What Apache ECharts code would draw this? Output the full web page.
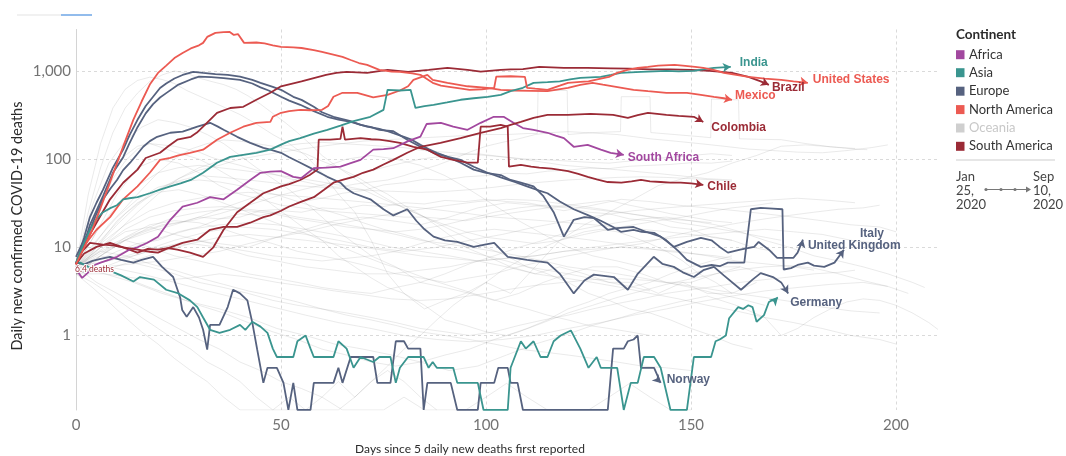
<!DOCTYPE html>
<html><head><meta charset="utf-8">
<script src="https://cdn.jsdelivr.net/npm/echarts@6/dist/echarts.min.js"></script>
<style>html,body{margin:0;padding:0;background:#fff}#chart{width:1066px;height:456px}</style>
</head><body><div id="chart"></div>
<script>
// ---------------- DATA ----------------
const continents = ['Africa','Asia','Europe','North America','Oceania','South America'];
const continentColors = ['#a2489f','#3a958f','#56627f','#ec5a52','#cfcfcf','#9b2b36'];
const xTickValues = [0,50,100,150,200];
const yTickValues = [1,10,100,1000];
const startLabel = '6.4 deaths';
const timelineStart = ['Jan','25,','2020'];
const timelineEnd = ['Sep','10,','2020'];

const unitedStates = [[0,6.4],[2,10],[4,16],[6,28],[8,50],[10,90],[12,160],[14,280],[16,450],[18,700],[20,950],[22,1150],[24,1400],[26,1600],[28,1800],[30,1950],[31,2080],[32,2430],[34,2700],[36,2750],[37.5,2770],[38.5,2560],[39.5,2620],[41,2080],[44,2100],[46,2050],[48,1950],[50,1870],[53,1850],[55,1820],[58,1720],[60,1640],[63,1520],[65,1440],[67,1330],[69,1230],[71,1170],[74,1030],[77,980],[79,977],[82,940],[84,903],[87,733],[89,680],[91,660],[94,630],[96,611],[99,620],[102,644],[102.5,860],[106,870],[109.5,857],[110,644],[112,630],[115,611],[118,680],[120,733],[123,750],[125,760],[128,820],[130,857],[132,950],[134.5,1030],[137,1080],[139.5,1113],[142,1150],[146,1173],[148,1150],[151,1113],[153,1080],[155.5,1030],[158,950],[161,900],[164,857],[168,820],[172,793],[175,760],[178.5,733]];
const mexico = [[0,6.4],[1,8.7],[3,12],[5,15.8],[8.3,22],[11.5,35],[15,49],[18,70],[20.5,98],[23,103],[25,110],[27.8,118],[31,128],[34.4,166],[37.6,199],[40.8,233],[44,258],[47.4,265],[48,302],[50,335],[52,350],[54.7,362],[57,358],[60,362],[61.5,400],[62.8,509],[65,565],[68.6,565],[72.5,500],[76,536],[79,600],[81,670],[82.3,793],[85.7,903],[87,793],[90.6,733],[95.5,670],[100.4,644],[103.6,611],[107,600],[111,595],[115,590],[120,644],[123,696],[126,733],[128.5,700],[131,670],[136,611],[139.5,590],[144,565],[149,565],[152,540],[155.6,509],[158,490],[160,471]];
const india = [[0,6.7],[1.5,10],[3.4,15.8],[5,21],[6.6,25],[8.5,28],[10,30],[11.5,35],[13,36],[15,37],[18,41],[20.5,45],[23,49],[25.5,53],[28,58],[31,70],[34.4,91],[37.6,106],[40.8,112],[44,118],[47.4,128],[50,146],[52,160],[54.7,173],[58,195],[61.3,215],[64.5,240],[67.7,270],[71.8,302],[75,362],[76,611],[79,600],[81.6,611],[82.8,380],[85,400],[87.2,413],[90.5,440],[93.8,471],[97,490],[100.4,509],[103.6,536],[106,590],[109,644],[111.6,733],[115,745],[118,760],[120.5,800],[123,836],[128,857],[130.5,900],[132.9,950],[137.8,977],[141,990],[144,1000],[147,990],[150.7,1000],[153,1040],[155.6,1084],[159.7,1113]];
const brazil = [[0,6.5],[1,8],[3,13],[5,19],[8.3,35],[11.5,54],[15,76],[17,103],[20.5,118],[22.5,140],[24.7,166],[28,179],[29.5,200],[31,233],[34.4,335],[37.6,380],[40.8,392],[44,471],[47.4,565],[50,670],[55,760],[58,830],[61,903],[63.5,950],[66,977],[71,950],[76,1030],[81,977],[86,1030],[90.6,1084],[95.5,1030],[98.7,980],[103.6,1030],[106,1040],[109,1050],[113,1113],[116,1100],[119,1084],[124.8,1084],[130.4,1070],[135,1060],[140,1040],[145,1040],[150,1030],[154.5,1000],[157.5,977],[160,950],[164,857],[167,760],[169,696]];
const colombia = [[0,6.5],[2,8.5],[5,10.1],[8.3,11.2],[11.5,10],[15,9.4],[18,8.9],[20,8.7],[23,10],[26,11.2],[29.6,12.2],[32.7,15.8],[36,17],[39.3,17],[42.5,19],[45.7,22],[47.4,23],[50,26],[52,29],[55,33],[58,37],[60.5,45],[62.8,54],[65,58],[67.7,63],[70,70],[72.5,76],[75,87],[77.4,98],[80.8,118],[84,138],[88.9,153],[93.8,173],[98.7,199],[103.6,225],[106,245],[108.5,264],[111.6,294],[115,318],[120,318],[125.5,325],[131,318],[134.6,294],[137,315],[139.5,335],[144,318],[147,310],[150.7,302],[153,264]];
const chile = [[0,6.4],[1.5,9],[3.4,11.2],[6.6,10.7],[9,10.5],[11.5,10],[15,8.7],[17.5,9.6],[20,9.4],[22.5,9.8],[24.7,9.4],[27.8,8.7],[31,7.8],[33.5,10],[36,15.8],[39.3,25],[42.5,32],[45.7,41],[48,45],[50,49],[52,52],[54.7,58],[57,66],[58.9,76],[59.2,166],[62,166],[64.5,170],[65,233],[65.6,166],[67.5,170],[69.4,173],[72,168],[74,166],[76.5,160],[79,153],[82.3,138],[85.7,128],[87.5,115],[89,106],[92,98],[95.5,91],[98,91],[98.7,233],[101,233],[103.6,245],[105.3,233],[105.6,82],[108.5,86],[111,82],[113,80],[116,78],[120,73],[122.5,68],[124.8,63],[127,59],[129.7,55],[133,54],[135.5,56],[137.8,58],[140,56],[142.6,55],[145,54],[147.5,54],[150,53],[153,51]];
const southAfrica = [[0,5.6],[1.5,4.5],[3,5.2],[4.5,6.3],[6,6.7],[8,7.2],[10,7.8],[13,9.4],[15,10],[17.3,11.2],[20,13.2],[23,20.5],[26,29],[29.6,32],[32.7,37],[36,35],[39.3,45],[42.5,58],[45,70],[47.4,72],[50,73],[53,63],[55,61],[58,79],[61,80],[64.5,82],[67,90],[69.4,98],[72.5,128],[75,130],[77.4,133],[81,160],[84,180],[85.5,250],[89,258],[92,233],[95.5,215],[98.7,258],[101.9,302],[104.3,302],[106.7,258],[109,225],[111.6,215],[115,199],[117,185],[119,173],[121.4,138],[124.8,145],[128,128],[130.4,118],[133.6,112]];
const asiaOther = [[0,6.7],[1,6.7],[3,6],[5.9,5.6],[8.3,5.4],[11,4.8],[14,4.1],[15.6,4.6],[19,4.3],[22,3.3],[25,3],[27.8,2.5],[29.6,2.1],[31,1.6],[32.7,1.16],[35,1.07],[37.6,1.16],[40,1.32],[41.3,1.16],[43,1.43],[45,1.26],[46.7,1.07],[48,0.71],[49,0.57],[53,0.57],[54,0.86],[56,1.0],[57.2,0.71],[58,0.57],[62.8,0.57],[64,0.86],[66,0.71],[67.7,0.43],[69.4,0.57],[72.5,0.5],[74,0.57],[76.7,0.57],[78,0.29],[79,0.43],[81,0.57],[84.8,0.57],[86,0.43],[87,0.5],[88,0.43],[92,0.43],[93,0.29],[98,0.29],[99.4,0.143],[105.3,0.143],[106,0.43],[108.5,0.86],[109.7,0.71],[111.6,0.86],[113.3,0.57],[115,0.57],[116.5,0.86],[118.2,1.0],[120.7,1.14],[123,0.71],[125,0.43],[127,0.57],[128,0.43],[132,0.43],[133.6,0.143],[135.3,0.29],[137,0.29],[138.5,0.57],[141,0.57],[142.6,0.43],[145,0.143],[149,0.143],[150.7,0.57],[154.9,0.57],[156,0.86],[157,0.9],[158.5,1.0],[159.3,1.57],[161.5,2.1],[162.7,2.0],[164,2.2],[165,2.1],[166,1.43],[167.8,1.7],[169,2.4],[171.2,2.7]];
const unitedKingdom = [[0,6.5],[2,13],[3.4,22],[5,32],[6.6,45],[9,80],[11.5,128],[13,185],[15,279],[17,400],[18.8,509],[20.5,640],[22,720],[24,820],[26,900],[28.6,977],[31,950],[34,920],[37,903],[40,860],[43,790],[45,733],[48,660],[50,611],[53,509],[55,470],[58,392],[60,340],[62.8,302],[65,285],[67,270],[69.4,245],[72,230],[74,215],[77.4,207],[80.8,166],[84,138],[87.2,118],[90.6,106],[93.8,91],[97,76],[100,70],[103.6,66],[106,58],[108.5,54],[111.6,49],[114,38],[116.5,25],[119,13.2],[121.4,20.5],[124,22],[126.3,21.5],[129.7,15.8],[132,16.5],[136,17],[139,15],[142.6,13.2],[145.8,10.1],[149,11.5],[152.4,12.8],[155,12],[157,10.1],[159,8.7],[162,9.4],[165.4,10.1],[166.5,11.5],[169,9.4],[171,7.6],[175,7.6],[176,8.7],[177.3,12.2]];
const italy = [[0,6.4],[2,11],[3.4,18],[6.6,38],[9,70],[11.5,105],[13,150],[15,230],[17,330],[18.8,420],[20.5,500],[22,560],[25,700],[28,800],[30,860],[33,850],[36,830],[40,793],[43,720],[45,650],[47,600],[50,509],[52,460],[54.7,413],[58,350],[61.3,302],[64,280],[67,264],[71,233],[74,220],[76,207],[80,179],[82,165],[84,145],[86,130],[88,118],[91,105],[93.8,98],[97,82],[100.4,70],[103.6,62],[107,55],[110,49],[113,44],[115,41],[118,33],[121.4,27],[125,23],[128,20],[131,17],[132.9,15],[136,15.8],[138,15],[141,14.6],[144,12],[147,9],[149,7.2],[152.4,6],[155,6.3],[157,6.1],[159,6.7],[163,6.7],[164.6,27],[167,28],[170,27.5],[172.3,27],[172.6,5.6],[174.4,5.8],[176,6.3],[178.5,6.7],[180,6.2],[182.5,6.0],[185,6.7],[187.3,9.4]];
const germany = [[0,7.8],[1.5,11],[3.4,15.8],[5,24],[6.6,35],[8.5,47],[10,58],[11.5,75],[13.2,91],[14.8,112],[16.4,138],[18,160],[19.8,179],[23,199],[26,205],[28,220],[29.6,233],[32.7,258],[34.5,235],[36,215],[39.3,179],[42.5,153],[45.7,134],[47.4,128],[50,118],[52,105],[54.7,91],[58,76],[61.3,63],[64.5,54],[66,46],[67.7,41],[71.8,35],[75,27],[77.4,23],[80.8,27],[83,20],[85,16],[87.2,13.2],[90,12],[93,11.5],[97,10.1],[100,10.8],[102,11.2],[105.3,7.8],[110,7.2],[115,6.7],[118,5],[121.4,3.0],[124,4.2],[126.3,4.9],[131.2,4.6],[134.6,3.3],[137,5],[140.9,7.8],[143,6.5],[145.8,6.0],[148,5.2],[150.7,4.6],[153,5.5],[155.6,6.0],[158,4.8],[162.2,3.3],[165,4.3],[167,5.1],[170,4.6],[172,4.0],[173.7,3.0]];
const norway = [[0,6.7],[2,6.4],[4,7],[6,7.4],[8.3,7.8],[11,7.2],[14,6.7],[16,7.2],[18.8,7.8],[21,6],[23.7,4.6],[25.4,2.7],[25.9,1.95],[27,1.63],[28.6,2.1],[30,1.6],[31,1.16],[32,0.69],[32.7,1.32],[35,1.32],[37,2.1],[38.3,3.3],[40,3],[41.8,2.5],[43,1.4],[44.2,0.69],[45.7,0.29],[46.7,0.43],[49,0.43],[50.6,0.29],[51.8,0.143],[53,0.29],[54,0.143],[57.2,0.143],[58,0.29],[62.8,0.29],[64,0.43],[65,0.29],[67,0.57],[72.5,0.57],[73.5,0.29],[76.7,0.29],[78,0.86],[80,0.86],[81,0.71],[84,0.71],[84.8,0.143],[85.7,0.29],[91.4,0.29],[93,0.143],[98,0.143],[98.7,0.29],[102,0.29],[103,0.43],[105.3,0.43],[106,0.29],[107.7,0.29],[109,0.143],[129.7,0.143],[131,0.71],[133.6,0.71],[134.6,0.86],[136,0.9],[137,1.0],[137.8,0.43],[141,0.43],[142.6,0.29]];

// other (greyed-out) countries
const other01 = [[0,6],[3,40],[6,150],[9,380],[12,620],[15,780],[18,850],[21,800],[24,720],[27,600],[30,520],[33,450],[36,390],[40,320],[44,250],[48,190],[52,150],[56,110],[60,70],[64,40],[68,25],[72,12],[76,5],[80,3],[85,2],[90,2.5],[95,3],[100,4],[106,3],[112,6],[118,12],[124,18],[130,25],[136,35],[142,50],[148,60],[154,70],[160,90],[166,110],[172,140],[178,145],[184,138],[190,130],[193,128]];
const other02 = [[0,6],[3,25],[6,80],[9,200],[12,380],[15,560],[18,760],[21,900],[24,1000],[27,940],[30,830],[33,760],[36,700],[39,620],[42,520],[45,420],[48,330],[51,260],[54,200],[57,150],[60,110],[64,80],[68,60],[72,45],[76,35],[80,28],[85,22],[90,18],[95,15],[100,13],[106,12],[112,11],[118,12],[124,14],[130,16],[136,18],[142,20],[148,22],[154,25],[160,28],[166,30],[170,32]];
const other03 = [[0,6],[4,30],[8,90],[12,160],[16,230],[20,280],[24,260],[28,230],[32,190],[36,150],[40,110],[44,80],[48,60],[52,45],[56,32],[60,22],[64,15],[68,11],[72,8],[78,6],[84,4],[90,3.5],[96,3],[102,2.5],[108,3],[114,4],[120,5],[126,6],[132,6],[138,5],[144,4],[150,4],[156,5],[162,6],[168,5],[172,4]];
const other04 = [[0,6],[3,12],[6,30],[9,60],[12,95],[15,130],[18,150],[21,145],[24,140],[27,130],[30,120],[33,105],[36,95],[40,85],[44,75],[48,68],[52,60],[56,55],[60,50],[64,48],[68,52],[72,55],[76,58],[80,65],[84,75],[88,85],[92,100],[96,120],[100,140],[104,155],[108,170],[112,190],[116,200],[120,205],[124,200],[128,195],[132,190],[136,180],[140,170],[146,160],[152,150],[158,140],[164,130],[170,125],[176,120],[182,118],[188,125],[194,135],[198,145]];
const other05 = [[0,6],[4,10],[8,18],[12,28],[16,45],[20,70],[24,100],[28,130],[32,150],[36,165],[40,160],[44,150],[48,140],[52,130],[56,115],[60,95],[64,80],[68,65],[72,50],[76,40],[80,30],[85,22],[90,15],[95,10],[100,8],[106,6],[112,5],[118,6],[124,5],[130,4],[136,4],[142,3],[148,4],[154,3],[160,3],[166,4]];
const other06 = [[0,6],[5,9],[10,15],[15,25],[20,40],[25,60],[30,80],[35,95],[40,110],[45,125],[50,140],[55,150],[60,155],[65,150],[70,145],[75,140],[80,135],[85,125],[90,120],[95,115],[100,110],[105,105],[110,100],[115,98],[120,95],[125,92],[130,90],[135,95],[140,100],[145,105],[150,110],[155,115],[160,110]];
const other07 = [[0,6],[3,15],[6,35],[9,70],[12,110],[15,140],[18,150],[21,135],[24,120],[27,110],[30,100],[33,85],[36,70],[40,55],[44,42],[48,30],[52,22],[56,16],[60,12],[64,8],[68,6],[72,4.5],[76,3.5],[80,3],[85,2.2],[90,1.5],[95,1.3],[100,1.1],[105,1],[110,1.2],[115,1.5],[120,2],[125,2.4],[130,3],[135,3.5],[140,4],[145,5],[150,6],[155,7],[160,8]];
const other08 = [[0,6],[5,15],[10,30],[15,50],[20,70],[25,80],[30,85],[35,80],[40,75],[45,70],[50,65],[55,60],[60,55],[65,50],[70,45],[75,35],[80,28],[85,22],[90,17],[95,13],[100,10],[105,8],[110,6],[115,5],[120,4],[125,3],[130,2.5],[135,2],[140,1.8],[145,1.5],[150,1.2],[155,1],[160,0.8],[165,0.7]];
const other09 = [[0,6],[5,10],[10,18],[15,30],[20,45],[25,60],[30,75],[35,85],[40,100],[45,110],[50,120],[55,130],[60,140],[65,150],[70,160],[75,165],[80,170],[85,175],[90,180],[95,185],[100,190],[105,190],[110,195],[112.5,195],[112.7,600],[119.8,600],[120,190],[126,200],[132.8,205],[133,510],[140,510],[140.2,200],[146,190],[152,180],[154.8,175],[155,480],[161.6,470],[161.8,170],[166,168],[172,166],[178,150],[184,138],[190,132]];
const other10 = [[0,5],[5,7],[10,9],[15,11],[20,12],[25,15],[30,17],[35,21],[40,22],[45,26],[50,27],[55,33],[60,36],[65,41],[70,44],[75,51],[80,54],[85,59],[90,58],[95,63],[100,65],[105,69],[110,68],[115,73],[120,75],[125,79],[130,78],[135,83],[140,85],[145,87],[150,91],[155,90],[160,95]];
const other11 = [[0,5],[6,8],[12,12],[18,15],[24,18],[30,22],[36,28],[42,35],[48,45],[54,60],[60,80],[66,100],[72,110],[78,100],[84,85],[90,65],[96,45],[102,30],[108,20],[114,14],[120,10],[126,8],[132,7],[138,6],[144,6],[150,5],[156,6],[162,6]];
const other12 = [[0,6],[7,10],[14,14],[21,18],[28,20],[35,24],[42,30],[49,38],[56,46],[63,55],[70,70],[77,85],[84,100],[91,110],[98,115],[105,105],[112,95],[119,85],[126,80],[133,75],[140,70],[147,65],[154,60],[160,58]];
const other13 = [[0,5],[7,6],[14,8],[21,10],[28,12],[35,11],[42,10],[49,13],[56,16],[63,20],[70,22],[77,20],[84,18],[91,22],[98,28],[105,32],[112,30],[119,26],[126,30],[133,35],[140,33],[147,30],[154,28],[161,26],[168,24],[175,22],[182,20],[189,18],[196,17],[200,15]];
const other14 = [[0,6],[6,9],[12,12],[18,10],[24,8],[30,7],[36,6],[42,5],[48,4.5],[54,4],[60,3.5],[66,3.2],[72,3],[78,3.5],[84,4],[90,5],[96,6.5],[102,8],[108,10],[114,12],[120,15],[126,17],[132,19],[138,21],[144,22],[150,20],[156,18],[162,15],[168,12],[174,10],[180,8],[186,7],[192,6],[198,5],[204,4],[207,3.5]];
const other15 = [[0,5],[6,8],[12,13],[18,18],[24,20],[30,19],[36,16],[42,13],[48,11],[54,9],[60,8],[66,7],[72,6],[78,5],[84,4.5],[90,4],[96,4.5],[102,5],[108,6],[114,7],[120,8],[126,9],[132,10],[138,11],[144,13],[150,15],[156,17],[162,19],[168,21],[174,23],[180,25],[186,27],[192,28],[196,30]];
const other16 = [[0,6],[7,5],[14,4],[21,3],[28,2.4],[35,2],[42,1.6],[49,1.2],[56,1],[63,0.8],[70,0.7],[77,0.6],[84,0.5],[91,0.4],[98,0.45],[105,0.6],[112,0.8],[119,1],[126,1.3],[133,1.6],[140,2],[147,2.4],[154,2.8],[161,2.2],[168,1.6],[172,1],[176,1.2],[180,1.6],[184,2],[188,2.4],[192,2.6],[196,2.5],[200,2.2],[204,1.8],[208,1.4],[211,1.1]];
const other17 = [[0,5],[6,6],[12,4.5],[18,3.5],[24,2.8],[30,2.2],[36,1.8],[42,1.4],[48,1.1],[54,0.9],[60,0.7],[66,0.6],[72,0.5],[78,0.45],[84,0.5],[90,0.6],[96,0.7],[102,0.9],[108,1.1],[114,1.4],[120,1.8],[126,2.2],[132,2.7],[138,3.2],[144,3.8],[150,4.4],[156,5],[162,5.6],[168,6],[174,6.2],[180,5.8],[186,5],[192,4.2],[198,3.6],[203,3]];
const other18 = [[0,6],[6,10],[12,16],[18,22],[24,26],[30,28],[36,29],[42,27],[48,25],[54,22],[60,20],[66,18],[72,16],[78,14],[84,12],[90,11],[96,10],[102,9],[108,8],[114,7],[120,6],[126,5.5],[132,5],[138,4.5],[144,4],[150,3.5],[156,3],[162,2.6],[168,2.2]];
const other19 = [[0,6],[6,11],[12,18],[18,26],[24,32],[30,36],[36,40],[42,42],[48,40],[54,38],[60,36],[66,34],[72,32],[78,30],[84,28],[90,26],[96,24],[102,22],[108,21],[114,20],[120,19],[126,18],[132,17],[138,16],[144,15],[150,14],[156,13],[160,12]];
const other20 = [[0,5],[7,7],[14,8],[21,10],[28,11],[35,10],[42,8],[49,7],[56,6],[63,5.5],[70,5],[77,5],[84,5.5],[91,6],[98,7],[105,7.5],[112,8],[119,9],[126,9.5],[133,10],[140,9.5],[147,9],[154,8],[161,7],[168,6.5],[175,6],[180,5.5]];
const other21 = [[0,6],[5,4],[10,3],[15,2.2],[20,1.6],[25,1.2],[30,0.9],[35,0.7],[40,0.5],[45,0.4],[50,0.3],[55,0.25],[60,0.2],[65,0.143],[75,0.143],[80,0.2],[85,0.143],[95,0.143],[100,0.2],[105,0.286],[110,0.2],[115,0.143],[125,0.143],[130,0.2],[135,0.286],[140,0.2],[145,0.143],[150,0.143]];
const other22 = [[0,5],[4,4],[8,3],[12,2.2],[16,1.6],[20,1.2],[24,0.9],[28,0.7],[32,0.5],[36,0.4],[40,0.3],[44,0.2],[48,0.143],[56,0.143],[60,0.2],[64,0.3],[68,0.2],[72,0.3],[76,0.4],[80,0.3],[84,0.2],[88,0.143]];
const other23 = [[0,6],[6,8],[12,7],[18,6],[24,5],[30,4],[36,3.5],[42,3],[48,2.5],[54,2.2],[60,2],[66,1.8],[72,1.6],[78,1.4],[84,1.2],[90,1.1],[96,1],[102,1.1],[108,1.3],[114,1.5],[120,1.7],[126,2],[132,2.3],[138,2.6],[144,3],[150,3.3],[156,3.6],[162,4],[168,4.3],[174,4.6],[180,5],[186,5.2],[190,5.5]];
const other24 = [[0,5],[6,8],[12,12],[18,17],[24,22],[30,25],[36,27],[42,26],[48,24],[54,21],[60,19],[66,17],[72,16],[78,15],[84,16],[90,18],[96,21],[102,25],[108,28],[114,30],[120,29],[126,27],[132,25],[138,23],[144,21],[150,20],[155,19]];
const other25 = [[0,6],[6,10],[12,15],[18,17],[24,14],[30,12],[36,10],[42,9],[48,8],[54,7.5],[60,7],[66,7.5],[72,8],[78,9],[84,11],[90,13],[96,15],[102,16],[108,15],[114,14],[120,13],[126,12],[132,11],[138,10],[144,9],[150,8.5],[156,8],[160,7.5]];
const other26 = [[0,5],[7,6],[14,6.5],[21,7],[28,8],[35,9],[42,11],[49,13],[56,15],[63,18],[70,21],[77,24],[84,27],[91,30],[98,33],[105,35],[112,34],[119,31],[126,28],[133,25],[140,22],[147,19],[154,17],[161,15],[168,13],[172,12]];
const other27 = [[0,6],[6,9],[12,8],[18,6.5],[24,5.5],[30,4.5],[36,3.8],[42,3.2],[48,2.8],[54,2.4],[60,2],[66,1.7],[72,1.5],[78,1.3],[84,1.1],[90,1],[96,0.9],[102,0.8],[108,0.7],[114,0.65],[120,0.6],[126,0.55],[132,0.5],[138,0.45],[144,0.43],[150,0.4]];
const other28 = [[0,5],[7,5],[14,4.5],[21,4.2],[28,4.5],[35,5],[42,4.6],[49,4],[56,3.6],[63,3.2],[70,2.9],[77,2.6],[84,2.5],[91,2.6],[98,2.9],[105,3.3],[112,3.7],[119,4],[126,4.3],[133,4.4],[140,4.2],[147,3.8],[154,3.4],[161,3],[168,2.7],[175,2.4],[182,2.1],[189,1.9],[196,1.8]];
const other29 = [[0,6],[5,12],[10,22],[15,35],[20,48],[25,55],[30,58],[35,55],[40,50],[45,44],[50,38],[55,32],[60,27],[65,23],[70,19],[75,16],[80,14],[85,12],[90,10],[95,9],[100,8],[105,7],[110,6],[115,5.5],[120,5],[125,4.5],[130,4],[135,3.6],[140,3.2]];
const other30 = [[0,5],[7,7],[14,10],[21,13],[28,16],[35,18],[42,19],[49,18],[56,16],[63,14],[70,12],[77,10],[84,9],[91,8],[98,7],[105,6],[112,5],[119,4.5],[126,4],[133,3.5],[140,3],[147,2.6],[154,2.2],[161,1.9],[168,1.6],[175,1.4],[182,1.2],[189,1],[196,0.9],[200,0.8]];
const other31 = [[0,5],[4,3.5],[8,2.4],[12,1.6],[16,1.1],[20,0.8],[24,0.55],[28,0.4],[32,0.3],[36,0.2],[40,0.143],[48,0.143],[52,0.2],[56,0.143],[64,0.143],[68,0.2],[72,0.3],[76,0.45],[80,0.7],[84,1],[88,1.5],[92,2.2],[96,3],[100,4],[104,5.5],[108,7],[112,9],[116,11],[120,13],[124,15],[128,16],[132,15],[136,13],[140,11],[144,9],[148,7],[152,5],[156,4],[160,3]];
const other32 = [[0,6],[7,5.5],[14,7],[21,9],[28,11],[35,13],[42,14],[49,13],[56,12],[63,11],[70,10],[77,9],[84,8],[91,7.5],[98,7],[105,7.5],[112,8],[119,9],[126,10],[133,11],[140,12],[147,13],[154,14],[161,15],[168,16],[175,15],[182,14],[189,12],[196,11],[200,10]];
const other33 = [[0,5],[5,10],[10,20],[15,32],[20,42],[25,45],[30,40],[35,33],[40,27],[45,22],[50,18],[55,15],[60,12],[65,10],[70,8],[75,6.5],[80,5.5],[85,4.5],[90,3.8],[95,3.2],[100,2.7],[105,2.3],[110,2],[115,1.7],[120,1.5],[125,1.3],[130,1.2],[135,1.1],[140,1]];
const other34 = [[0,6],[8,7],[16,9],[24,12],[32,15],[40,17],[48,16],[56,14],[64,12],[72,10],[80,9],[88,10],[96,12],[104,14],[112,17],[120,20],[128,23],[136,26],[144,28],[152,30],[160,32],[168,34],[176,36],[184,34],[190,32]];
const other35 = [[0,5],[8,6],[16,5],[24,4],[32,3.2],[40,2.6],[48,2.1],[56,1.7],[64,1.4],[72,1.2],[80,1],[88,0.9],[96,0.85],[104,0.9],[112,1],[120,1.2],[128,1.4],[136,1.7],[144,2],[152,2.4],[160,2.8],[168,3.2],[176,3.5],[184,3.8],[192,4],[198,3.6]];
const other36 = [[0,6],[5,8],[10,11],[15,14],[20,17],[25,19],[30,22],[35,21],[40,24],[45,23],[50,26],[55,25],[60,28],[65,27],[70,30],[75,29],[80,32],[85,31],[90,34],[95,33],[100,35],[105,33],[110,32],[115,29],[120,28],[125,25],[130,24],[135,21],[140,20],[145,17],[150,16],[155,13],[160,12],[165,10],[170,9]];
const other37 = [[0,6],[5,15],[10,40],[15,80],[20,100],[25,90],[30,70],[35,50],[40,40],[45,35],[50,30],[55,28],[60,26],[65,25],[70,24],[75,23],[80,22],[85,22],[90,21],[95,20],[100,22],[105,24],[110,26],[115,28],[120,30],[125,32],[130,34],[135,30],[140,27],[145,24],[150,22],[155,20],[160,19]];
const other38 = [[0,6],[6,12],[12,24],[18,40],[24,55],[30,65],[36,62],[42,58],[48,54],[54,50],[60,48],[66,46],[72,44],[78,43],[84,42],[90,43],[96,45],[102,48],[108,52],[114,55],[120,58],[126,60],[132,62],[138,63],[144,62],[150,60],[156,58],[160,56]];
const otherCountries = [other01,other02,other03,other04,other05,other06,other07,other08,other09,other10,other11,other12,other13,other14,other15,other16,other17,other18,other19,other20,other21,other22,other23,other24,other25,other26,other27,other28,other29,other30,other31,other32,other33,other34,other35,other36,other37,other38];

// highlighted countries: data + continent + label; styling (offsets, arrow angle) kept separately
const highlighted = [
  {name:'Norway', data:norway, continent:'Europe'},
  {name:'Asia (other)', data:asiaOther, continent:'Asia', label:''},
  {name:'Germany', data:germany, continent:'Europe'},
  {name:'Italy', data:italy, continent:'Europe'},
  {name:'United Kingdom', data:unitedKingdom, continent:'Europe'},
  {name:'Chile', data:chile, continent:'South America'},
  {name:'South Africa', data:southAfrica, continent:'Africa'},
  {name:'Colombia', data:colombia, continent:'South America'},
  {name:'Mexico', data:mexico, continent:'North America'},
  {name:'Brazil', data:brazil, continent:'South America'},
  {name:'India', data:india, continent:'Asia'},
  {name:'United States', data:unitedStates, continent:'North America'}
];
const labelStyle = {
  'Norway':[1,-3,-135], 'Asia (other)':[0,0,-45], 'Germany':[-3,9,-150], 'Italy':[11,-16,-35],
  'United Kingdom':[0,6,-15], 'Chile':[-1,2,-100], 'South Africa':[-1,3,-100], 'Colombia':[3,6,-120],
  'Mexico':[-2,-4,-100], 'Brazil':[-2,3,-115], 'India':[4,-4,-85], 'United States':[0,-3,-100]
};

// ---------------- CHART ----------------
const colorOf = {};
continents.forEach((c,i)=>colorOf[c]=continentColors[i]);
const chart = echarts.init(document.getElementById('chart'));
const series = [];
otherCountries.forEach(d => series.push({
  type:'line', data:d, symbol:'none', silent:true, animation:false, z:1,
  lineStyle:{color:'rgba(150,150,150,0.2)', width:1}
}));
highlighted.forEach(h => {
  const col = colorOf[h.continent];
  const st = labelStyle[h.name];
  const n = h.data.length;
  const data = h.data.map((p,i)=> i===n-1 ? {value:p, symbol:'arrow', symbolSize:[7,8], symbolRotate:st[2], itemStyle:{color:col}} : p);
  series.push({type:'line', name:h.name, data, symbol:'none', showSymbol:true, showAllSymbol:true,
    clip:false, silent:true, animation:false, z:3,
    lineStyle:{color:col, width:1.8}, itemStyle:{color:col}});
});

const isPow10 = v => Math.abs(Math.log10(v) - Math.round(Math.log10(v))) < 1e-6;
chart.setOption({
  animation:false,
  grid:{left:76, top:29.5, width:861, height:380.5},
  xAxis:{type:'value', min:0, max:210, interval:50,
    axisLine:{show:false}, axisTick:{show:false},
    axisLabel:{fontFamily:'Lato', fontSize:15, color:'#737373', margin:8, showMaxLabel:false,
      formatter: v => xTickValues.includes(v) ? String(v) : ''},
    splitLine:{show:true, showMaxLine:false, lineStyle:{type:[3,3], color:'#dadada'}}},
  yAxis:{type:'log', logBase:10, min:1/7, max:2950,
    axisLine:{show:true, lineStyle:{color:'#d4d4d4'}}, axisTick:{show:false},
    axisLabel:{fontFamily:'Lato', fontSize:15, color:'#737373', margin:5, showMinLabel:false, showMaxLabel:false,
      formatter: v => (isPow10(v) && yTickValues.includes(Math.round(v))) ? Math.round(v).toLocaleString('en-US') : ''},
    splitLine:{show:true, showMinLine:false, showMaxLine:false, lineStyle:{type:[3,3], color:'#dadada'}}},
  series
});

// ---------------- ANNOTATIONS ----------------
const g = [];
highlighted.forEach(h => {
  if (h.label === '') return;
  const st = labelStyle[h.name];
  const last = h.data[h.data.length-1];
  const p = chart.convertToPixel({gridIndex:0}, last);
  g.push({type:'text', x:p[0]+5+st[0], y:p[1]+st[1], z:20, silent:true,
    style:{text:h.name, fill:colorOf[h.continent], font:'bold 12px "Liberation Sans", Arial, sans-serif',
      textAlign:'left', textVerticalAlign:'middle', align:'left', verticalAlign:'middle'}});
});
// start-point label
const sp = chart.convertToPixel({gridIndex:0}, [0, 6.4]);
g.push({type:'text', x:sp[0]-1, y:sp[1]+5, z:20, silent:true,
  style:{text:startLabel, fill:'#9b2b36', font:'8.5px Lato', stroke:'#fff', lineWidth:2,
    textAlign:'left', textVerticalAlign:'middle', align:'left', verticalAlign:'middle'}});
// axis titles
g.push({type:'text', x:470, y:449, silent:true,
  style:{text:'Days since 5 daily new deaths first reported', fill:'#2b2b2b', font:'12px Lato',
    textAlign:'center', textVerticalAlign:'middle', align:'center', verticalAlign:'middle'}});
g.push({type:'text', x:17, y:226, rotation:Math.PI/2, silent:true,
  style:{text:'Daily new confirmed COVID-19 deaths', fill:'#2b2b2b', font:'14.5px Lato',
    textAlign:'center', textVerticalAlign:'middle', align:'center', verticalAlign:'middle'}});
// legend
g.push({type:'text', x:956, y:35, silent:true,
  style:{text:'Continent', fill:'#2b2b2b', font:'bold 13.5px Lato', textAlign:'left', textVerticalAlign:'middle', align:'left', verticalAlign:'middle'}});
const rowY = [54.7, 72.7, 91.2, 109.6, 128, 146.3];
continents.forEach((c,i)=>{
  g.push({type:'rect', shape:{x:956, y:rowY[i]-4.5, width:8.5, height:9}, style:{fill:continentColors[i]}, silent:true});
  g.push({type:'text', x:969, y:rowY[i], silent:true,
    style:{text:c, fill: c==='Oceania' ? '#c8c8c8' : '#333', font:'13px Lato', textAlign:'left', textVerticalAlign:'middle', align:'left', verticalAlign:'middle'}});
});
g.push({type:'line', shape:{x1:956, y1:160, x2:1055, y2:160}, style:{stroke:'#dedede', lineWidth:1.5}, silent:true});
// timeline
[timelineStart, timelineEnd].forEach((lines, k)=>{
  lines.forEach((t, j)=>{
    g.push({type:'text', x: k===0 ? 956 : 1033, y:176.5 + j*14, silent:true,
      style:{text:t, fill:'#444', font:'13px Lato', textAlign:'left', textVerticalAlign:'middle', align:'left', verticalAlign:'middle'}});
  });
});
g.push({type:'line', shape:{x1:986, y1:189.5, x2:1027, y2:189.5}, style:{stroke:'#777', lineWidth:1}, silent:true});
[986, 1001, 1015].forEach(cx => g.push({type:'circle', shape:{cx, cy:189.5, r:1.6}, style:{fill:'#777'}, silent:true}));
g.push({type:'polygon', shape:{points:[[1026,186.5],[1031,189.5],[1026,192.5]]}, style:{fill:'#777'}, silent:true});
// top-left tab remnant
g.push({type:'line', shape:{x1:17, y1:15, x2:61, y2:15}, style:{stroke:'#e3e3e3', lineWidth:1}, silent:true});
g.push({type:'line', shape:{x1:61, y1:15, x2:92, y2:15}, style:{stroke:'#4a8fe0', lineWidth:1.2}, silent:true});

chart.setOption({graphic:{elements:g}});
</script></body></html>
